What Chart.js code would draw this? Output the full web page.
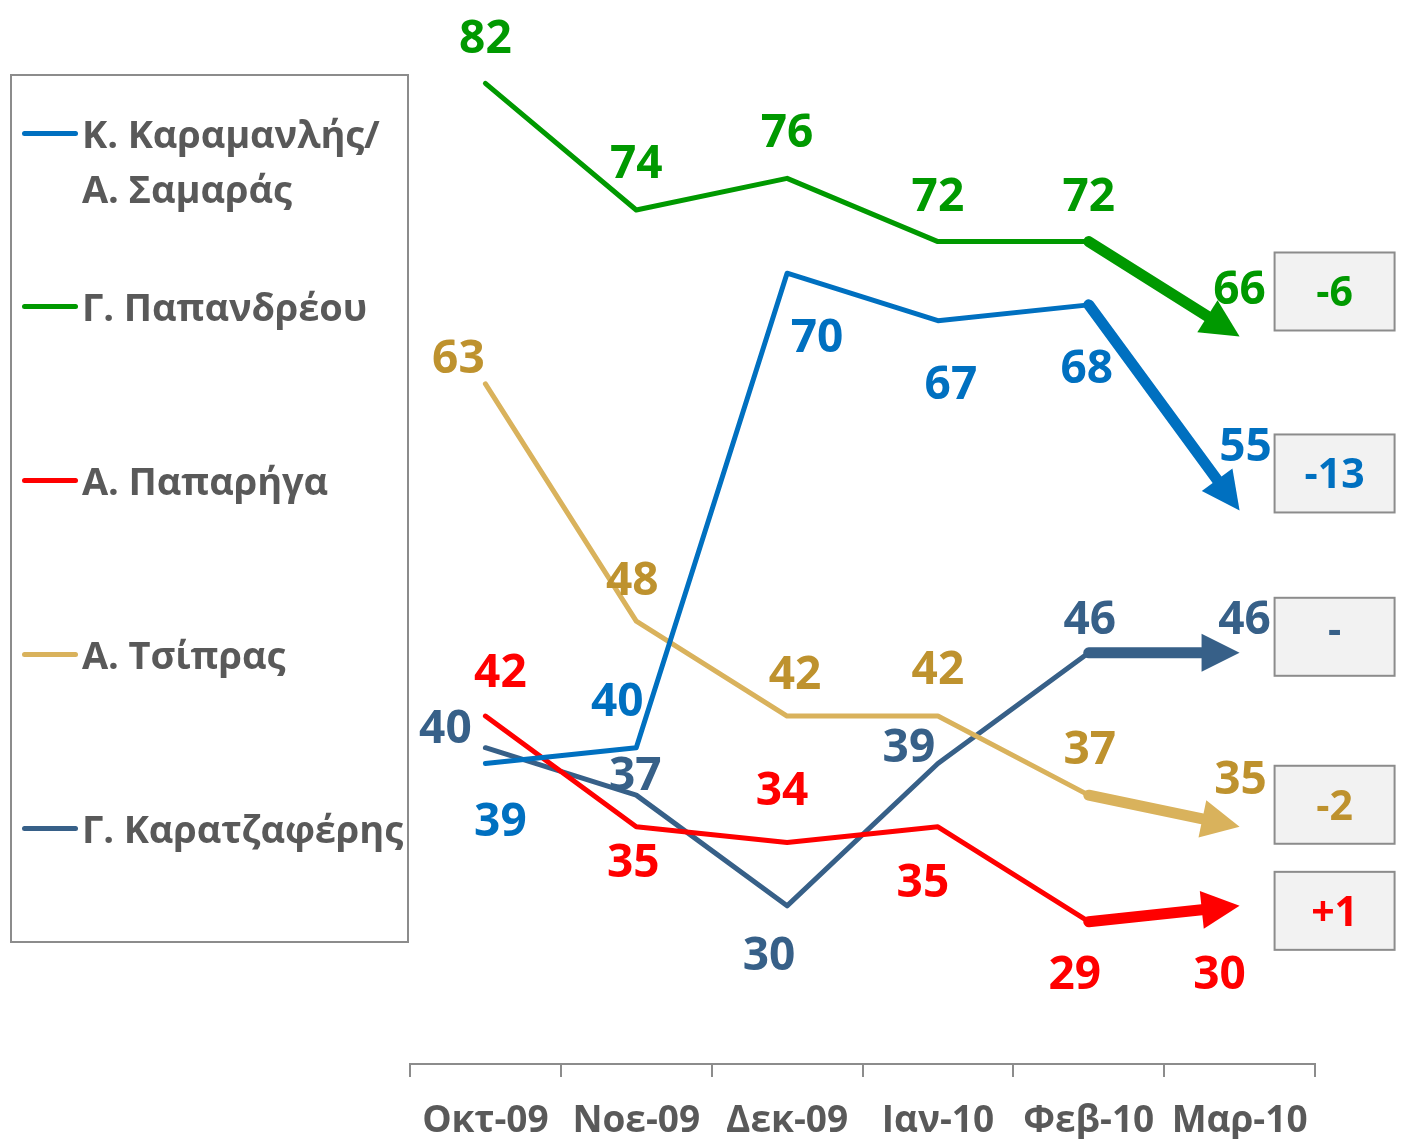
<!DOCTYPE html>
<html>
<head>
<meta charset="utf-8">
<script src="https://cdn.jsdelivr.net/npm/chart.js@4.4.1/dist/chart.umd.min.js"></script>
<style>
  body { margin: 0; background: #fff; font-family: "Open Sans", sans-serif; }
  #wrap { position: relative; width: 1401px; height: 1139px; }
  #legend { position: absolute; left: 10px; top: 74px; width: 399px; height: 869px;
            border: 2px solid #8c8c8c; box-sizing: border-box; }
  .item { position: absolute; left: 0; white-space: nowrap; }
  .swatch { position: absolute; left: 10px; width: 56px; height: 5px; border-radius: 3px; top: 25px; }
  .txt { position: absolute; left: 70px; font: bold 38px "Open Sans"; color: #595959;
         line-height: 55px; white-space: pre; letter-spacing: -0.1px; }
</style>
</head>
<body>
<div id="wrap">
  <canvas id="chart"></canvas>
  <div id="legend"></div>
</div>
<script>
const months = ["Οκτ-09", "Νοε-09", "Δεκ-09", "Ιαν-10", "Φεβ-10", "Μαρ-10"];
const karamanlis = [39, 40, 70, 67, 68, 55];
const papandreou = [82, 74, 76, 72, 72, 66];
const papariga = [42, 35, 34, 35, 29, 30];
const tsipras = [63, 48, 42, 42, 37, 35];
const karatzaferis = [40, 37, 30, 39, 46, 46];

const datasets = [
  {
    label: "Κ. Καραμανλής/\nΑ. Σαμαράς",
    data: karamanlis,
    borderColor: "#0070c0",
    textColor: "#0070c0",
    offsets: [[15, 55], [-19, -49], [30, 62], [13, 61], [-2, 61], [6, -66]],
    boxDy: -37
  },
  {
    label: "Γ. Παπανδρέου",
    data: papandreou,
    borderColor: "#009900",
    textColor: "#009900",
    offsets: [[0, -47], [0, -48], [0, -48], [0, -48], [0, -48], [0, -49]],
    boxDy: -45
  },
  {
    label: "Α. Παπαρήγα",
    data: papariga,
    borderColor: "#ff0000",
    textColor: "#ff0000",
    offsets: [[15, -46], [-3, 33], [-5, -55], [-15, 53], [-14, 50], [-20, 66]],
    boxDy: 5
  },
  {
    label: "Α. Τσίπρας",
    data: tsipras,
    borderColor: "#d9b25c",
    textColor: "#be922e",
    offsets: [[-27, -28], [-4, -43], [8, -44], [0, -49], [1, -48], [1, -50]],
    boxDy: -22
  },
  {
    label: "Γ. Καρατζαφέρης",
    data: karatzaferis,
    borderColor: "#376088",
    textColor: "#376088",
    offsets: [[-40, -22], [-1, -22], [-18, 47], [-29, -19], [1, -36], [5, -36]],
    boxDy: -16
  }
];

datasets.forEach(ds => {
  ds.borderWidth = 5;
  ds.pointRadius = 0;
  ds.tension = 0;
  ds.fill = false;
  ds.borderCapStyle = "round";
  ds.borderJoinStyle = "round";
  ds.segment = {
    borderColor: ctx => ctx.p1DataIndex === ds.data.length - 1 ? "transparent" : undefined
  };
});

// thick last segment with arrow head, value labels and change boxes
const extras = {
  id: "extras",
  afterDatasetsDraw(chart) {
    const ctx = chart.ctx;
    ctx.save();
    chart.data.datasets.forEach((ds, i) => {
      const pts = chart.getDatasetMeta(i).data;
      const n = pts.length;
      const p0 = pts[n - 2], p1 = pts[n - 1];
      const a = Math.atan2(p1.y - p0.y, p1.x - p0.x);
      const headLen = 38, headHalf = 19;
      const bx = p1.x - headLen * Math.cos(a), by = p1.y - headLen * Math.sin(a);
      ctx.strokeStyle = ds.borderColor;
      ctx.fillStyle = ds.borderColor;
      ctx.lineWidth = 11;
      ctx.lineCap = "round";
      ctx.beginPath();
      ctx.moveTo(p0.x, p0.y);
      ctx.lineTo(bx, by);
      ctx.stroke();
      ctx.beginPath();
      ctx.moveTo(p1.x, p1.y);
      ctx.lineTo(bx - headHalf * Math.sin(a), by + headHalf * Math.cos(a));
      ctx.lineTo(bx + headHalf * Math.sin(a), by - headHalf * Math.cos(a));
      ctx.closePath();
      ctx.fill();
    });

    chart.data.datasets.forEach((ds, i) => {
      const pts = chart.getDatasetMeta(i).data;
      ctx.fillStyle = ds.textColor;
      ctx.font = "bold 46px 'Open Sans'";
      ctx.textAlign = "center";
      ctx.textBaseline = "alphabetic";
      pts.forEach((p, j) => {
        const t = String(ds.data[j]);
        const m = ctx.measureText(t);
        const [dx, dy] = ds.offsets[j];
        ctx.fillText(t, p.x + dx, p.y + dy + m.actualBoundingBoxAscent / 2);
      });

      const n = ds.data.length;
      const d = ds.data[n - 1] - ds.data[n - 2];
      const txt = d > 0 ? "+" + d : d < 0 ? String(d) : "-";
      const last = pts[n - 1];
      const cx = last.x + 95, cy = last.y + ds.boxDy;
      ctx.fillStyle = "#f2f2f2";
      ctx.fillRect(cx - 60, cy - 39, 120, 78);
      ctx.strokeStyle = "#8c8c8c";
      ctx.lineWidth = 2;
      ctx.strokeRect(cx - 60, cy - 39, 120, 78);
      ctx.fillStyle = ds.textColor;
      ctx.font = "bold 41px 'Open Sans'";
      const m = ctx.measureText(txt);
      ctx.fillText(txt, cx, cy + m.actualBoundingBoxAscent / 2);
    });
    ctx.restore();
  }
};

const chart = new Chart(document.getElementById("chart"), {
  type: "line",
  data: { labels: months, datasets },
  options: {
    responsive: true,
    maintainAspectRatio: false,
    animation: false,
    layout: { padding: { left: 410, right: 86, top: 36, bottom: 0 } },
    plugins: { legend: { display: false }, tooltip: { enabled: false } },
    scales: {
      x: {
        offset: true,
        grid: { offset: true, drawOnChartArea: false, drawTicks: true, tickLength: 13,
                color: "#8c8c8c", lineWidth: 2 },
        border: { display: true, color: "#8c8c8c", width: 2 },
        ticks: { color: "#595959", font: { family: "Open Sans", size: 37, weight: "bold" },
                 padding: 22, maxRotation: 0, autoSkip: false },
        afterFit: s => { s.height = 75; }
      },
      y: { display: false, min: 20, max: 85 }
    }
  },
  plugins: [extras]
});

// legend box
const legend = document.getElementById("legend");
datasets.forEach((ds, i) => {
  const item = document.createElement("div");
  item.className = "item";
  item.style.top = (133 - 76 - 27.5 + i * 173.75) + "px";
  item.innerHTML = `<div class="swatch" style="background:${ds.borderColor}"></div>` +
                   `<div class="txt">${ds.label}</div>`;
  legend.appendChild(item);
});
</script>
</body>
</html>
